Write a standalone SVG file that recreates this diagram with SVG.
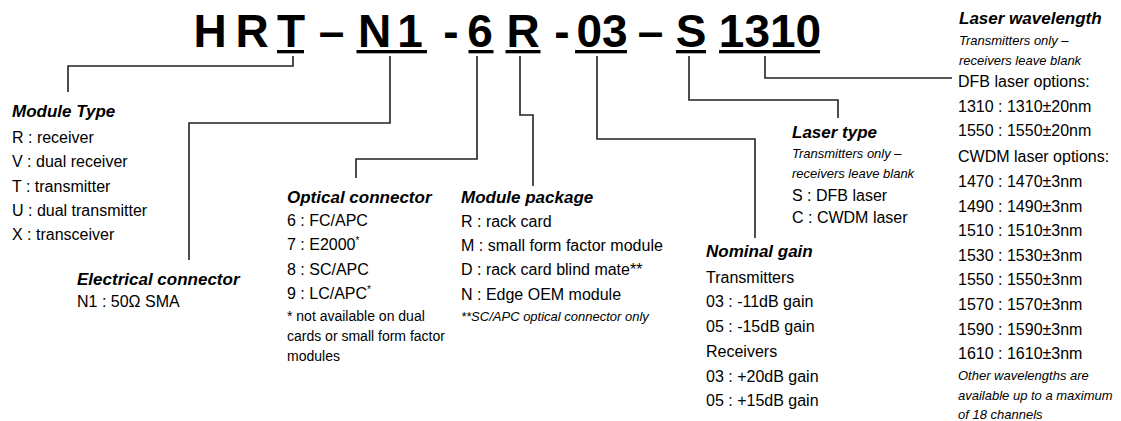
<svg xmlns="http://www.w3.org/2000/svg" width="1121" height="421" viewBox="0 0 1121 421">
<style>
text{font-family:"Liberation Sans",Arial,sans-serif;fill:#000}
.t{font-size:46px;font-weight:bold;text-anchor:middle}
.h{font-size:17px;font-weight:bold;font-style:italic}
.i{font-size:16px}
.n{font-size:13px;font-style:italic}
.s{font-size:14px}
.ul{fill:#000}
.c{fill:none;stroke:#222;stroke-width:1.6}
</style>
<rect width="1121" height="421" fill="#fff"/>
<g id="title">
<text class="t" x="210" y="46.5">H</text>
<text class="t" x="252" y="46.5">R</text>
<text class="t" x="291" y="46.5">T</text>
<text class="t" x="331.5" y="46.5">–</text>
<text class="t" x="374.5" y="46.5">N</text>
<text class="t" x="410" y="46.5">1</text>
<text class="t" x="451" y="46.5">-</text>
<text class="t" x="480" y="46.5">6</text>
<text class="t" x="523" y="46.5">R</text>
<text class="t" x="562" y="46.5">-</text>
<text class="t" x="602" y="46.5">03</text>
<text class="t" x="650.5" y="46.5">–</text>
<text class="t" x="691" y="46.5">S</text>
<text class="t" x="770" y="46.5">1310</text>
<rect class="ul" x="277" y="50" width="27" height="3.3"/>
<rect class="ul" x="356.5" y="50" width="70.5" height="3.3"/>
<rect class="ul" x="468.5" y="50" width="25" height="3.3"/>
<rect class="ul" x="505.5" y="50" width="35" height="3.3"/>
<rect class="ul" x="575" y="50" width="52" height="3.3"/>
<rect class="ul" x="676" y="50" width="30" height="3.3"/>
<rect class="ul" x="719" y="50" width="101" height="3.3"/>
</g>
<g id="connectors">
<path class="c" d="M293,56V66H68V92"/>
<path class="c" d="M390,56V123H189V260"/>
<path class="c" d="M477,56V159H356V178"/>
<path class="c" d="M520,56V115H533V186"/>
<path class="c" d="M597,56V139H755V238"/>
<path class="c" d="M689,56V100H838V118"/>
<path class="c" d="M765,56V78H952"/>
</g>
<g id="module-type">
<text class="h" x="12" y="116.7">Module Type</text>
<text class="i" x="12" y="142.7">R : receiver</text>
<text class="i" x="12" y="167.3">V : dual receiver</text>
<text class="i" x="12" y="191.7">T : transmitter</text>
<text class="i" x="12" y="216">U : dual transmitter</text>
<text class="i" x="12" y="240">X : transceiver</text>
</g>
<g id="electrical-connector">
<text class="h" x="77" y="285">Electrical connector</text>
<text class="i" x="77" y="307">N1 : 50Ω SMA</text>
</g>
<g id="optical-connector">
<text class="h" x="287" y="203">Optical connector</text>
<text class="i" x="287" y="226">6 : FC/APC</text>
<text class="i" x="287" y="250">7 : E2000<tspan font-size="10" dy="-6">*</tspan></text>
<text class="i" x="287" y="275">8 : SC/APC</text>
<text class="i" x="287" y="299">9 : LC/APC<tspan font-size="10" dy="-6">*</tspan></text>
<text class="s" x="287" y="321">* not available on dual</text>
<text class="s" x="287" y="341">cards or small form factor</text>
<text class="s" x="287" y="361">modules</text>
</g>
<g id="module-package">
<text class="h" x="461" y="203">Module package</text>
<text class="i" x="461" y="226.5">R : rack card</text>
<text class="i" x="461" y="251">M : small form factor module</text>
<text class="i" x="461" y="275">D : rack card blind mate**</text>
<text class="i" x="461" y="299.5">N : Edge OEM module</text>
<text class="n" x="461" y="321">**SC/APC optical connector only</text>
</g>
<g id="laser-type">
<text class="h" x="792" y="138">Laser type</text>
<text class="n" x="792" y="158">Transmitters only –</text>
<text class="n" x="792" y="178">receivers leave blank</text>
<text class="i" x="792" y="201">S : DFB laser</text>
<text class="i" x="792" y="223">C : CWDM laser</text>
</g>
<g id="nominal-gain">
<text class="h" x="706" y="257">Nominal gain</text>
<text class="i" x="706" y="282.5">Transmitters</text>
<text class="i" x="706" y="307">03 : -11dB gain</text>
<text class="i" x="706" y="331.5">05 : -15dB gain</text>
<text class="i" x="706" y="356.5">Receivers</text>
<text class="i" x="706" y="381.5">03 : +20dB gain</text>
<text class="i" x="706" y="406">05 : +15dB gain</text>
</g>
<g id="laser-wavelength">
<text class="h" x="959" y="24">Laser wavelength</text>
<text class="n" x="959" y="45">Transmitters only –</text>
<text class="n" x="959" y="65">receivers leave blank</text>
<text class="i" x="958" y="87">DFB laser options:</text>
<text class="i" x="958" y="112">1310 : 1310±20nm</text>
<text class="i" x="958" y="136">1550 : 1550±20nm</text>
<text class="i" x="958" y="162">CWDM laser options:</text>
<text class="i" x="958" y="187">1470 : 1470±3nm</text>
<text class="i" x="958" y="212">1490 : 1490±3nm</text>
<text class="i" x="958" y="236">1510 : 1510±3nm</text>
<text class="i" x="958" y="261">1530 : 1530±3nm</text>
<text class="i" x="958" y="285">1550 : 1550±3nm</text>
<text class="i" x="958" y="310">1570 : 1570±3nm</text>
<text class="i" x="958" y="335">1590 : 1590±3nm</text>
<text class="i" x="958" y="359">1610 : 1610±3nm</text>
<text class="n" x="958" y="380">Other wavelengths are</text>
<text class="n" x="958" y="400">available up to a maximum</text>
<text class="n" x="958" y="419">of 18 channels</text>
</g>
</svg>
